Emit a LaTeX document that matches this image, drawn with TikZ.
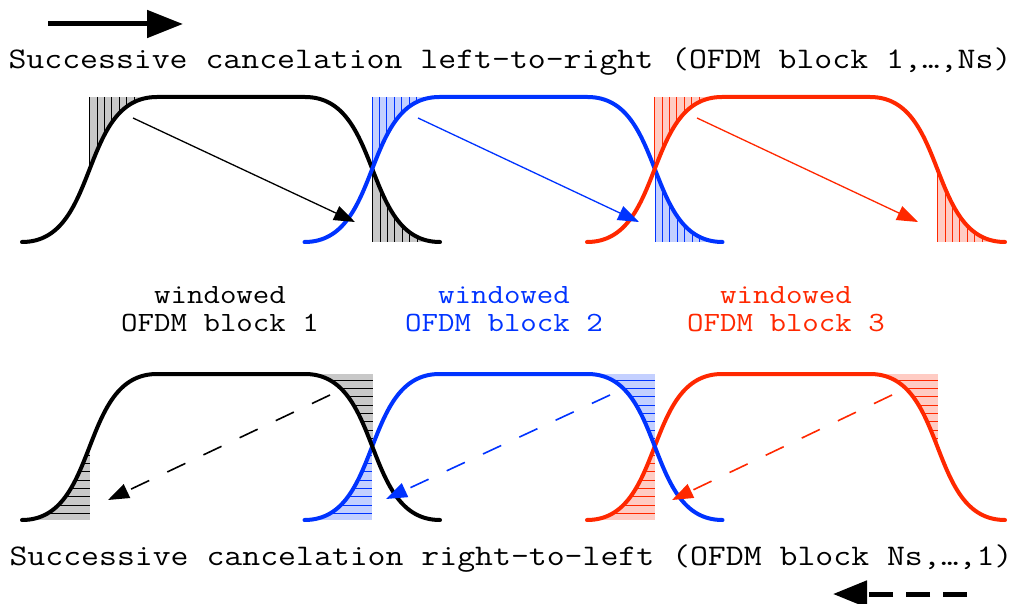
\documentclass[tikz,border=0pt]{standalone}
\usetikzlibrary{arrows.meta}
\definecolor{myblue}{RGB}{0,51,255}
\definecolor{myred}{RGB}{255,40,0}
\definecolor{lgray}{RGB}{200,200,200}
\definecolor{lblue}{RGB}{196,208,255}
\definecolor{lred}{RGB}{255,204,196}
\tikzset{
  pulse/.style={line width=4pt, line cap=round, line join=round},
  hatchline/.style={line width=0.7pt},
  solidarrow/.style={line width=1.3pt, -{Triangle[length=21pt,width=15pt]}},
  dasharrow/.style={line width=1.6pt, dash pattern=on 20pt off 20pt, -{Triangle[length=21pt,width=15pt]}},
  bigarrow/.style={line width=5pt, -{Triangle[length=36pt,width=27pt]}},
  bigdasharrow/.style={line width=5pt, dash pattern=on 24pt off 13pt, -{Triangle[length=34pt,width=26pt]}},
  titletext/.style={font=\ttfamily\fontsize{29.9}{30}\selectfont, xscale=1.163, anchor=base, inner sep=0pt},
  lbl/.style={font=\ttfamily\fontsize{27.8}{28}\selectfont, xscale=1.15, anchor=base, inner sep=0pt},
}
% rising curve from foot (22+o,B) to (157+o,T)
\newcommand\riseseg[3]{({22+#1},#3) .. controls ({100.3+#1},#3) and ({78.7+#1},#2) .. ({157+#1},#2)}
% falling curve from (305+o,T) to (440+o,B)
\newcommand\fallseg[3]{({305+#1},#2) .. controls ({383.3+#1},#2) and ({361.7+#1},#3) .. ({440+#1},#3)}
\begin{document}
\begin{tikzpicture}[x=1pt,y=-1pt]
\path[use as bounding box, fill=white] (0,0) rectangle (1014,604);

% ---------- top row hatches (vertical lines) ----------
\foreach \o/\c/\f in {0/black/lgray, 282.5/myblue/lblue, 565/myred/lred}{
  \begin{scope}
    \clip \riseseg{\o}{97}{242} -- ({22+\o},97) -- cycle;
    \fill[\f] ({89.5+\o},97) rectangle ({157+\o},242);
    \foreach \k in {0,...,9}{\draw[\c,hatchline] ({89.5+\o+7.4*\k},97) -- ++(0,145);}
  \end{scope}
  \begin{scope}
    \clip \fallseg{\o}{97}{242} -- ({305+\o},242) -- cycle;
    \fill[\f] ({372.5+\o},97) rectangle ({440+\o},242);
    \foreach \k in {0,...,9}{\draw[\c,hatchline] ({372.5+\o+7.4*\k},97) -- ++(0,145);}
  \end{scope}
}
% ---------- bottom row hatches (horizontal lines) ----------
\foreach \o/\c/\f in {0/black/lgray, 282.5/myblue/lblue, 565/myred/lred}{
  \begin{scope}
    \clip \riseseg{\o}{374}{520} -- ({157+\o},520) -- cycle;
    \fill[\f] ({22+\o},374) rectangle ({89.5+\o},520);
    \foreach \k in {0,...,16}{\draw[\c,hatchline] ({22+\o},{380+8.333*\k}) -- ++(67.5,0);}
  \end{scope}
  \begin{scope}
    \clip \fallseg{\o}{374}{520} -- ({440+\o},374) -- cycle;
    \fill[\f] ({305+\o},374) rectangle ({372.5+\o},520);
    \foreach \k in {0,...,16}{\draw[\c,hatchline] ({305+\o},{380+8.333*\k}) -- ++(67.5,0);}
  \end{scope}
}

% ---------- pulses ----------
\foreach \o/\c in {0/black, 282.5/myblue, 565/myred}{
  \draw[pulse,\c] \riseseg{\o}{97}{242} -- ({305+\o},97) .. controls ({383.3+\o},97) and ({361.7+\o},242) .. ({440+\o},242);
}
\foreach \o/\c in {565/myred, 282.5/myblue, 0/black}{
  \draw[pulse,\c] \riseseg{\o}{374}{520} -- ({305+\o},374) .. controls ({383.3+\o},374) and ({361.7+\o},520) .. ({440+\o},520);
}

% ---------- arrow end points ----------
\coordinate (ta1) at (133,118); \coordinate (tb1) at (355,222);
\coordinate (ta2) at (418,118); \coordinate (tb2) at (639,222);
\coordinate (ta3) at (697,118); \coordinate (tb3) at (918,222);
\coordinate (ba1) at (330,395); \coordinate (bb1) at (108,500);
\coordinate (ba2) at (610,395); \coordinate (bb2) at (386,499);
\coordinate (ba3) at (892,395); \coordinate (bb3) at (672,500);
\coordinate (la) at (48,24); \coordinate (lb) at (183,24);
\coordinate (ra) at (967,594); \coordinate (rb) at (833,594);

\draw[solidarrow,black] (ta1) -- (tb1);
\draw[solidarrow,myblue] (ta2) -- (tb2);
\draw[solidarrow,myred] (ta3) -- (tb3);
\draw[dasharrow,black] (ba1) -- (bb1);
\draw[dasharrow,myblue] (ba2) -- (bb2);
\draw[dasharrow,myred] (ba3) -- (bb3);
\draw[bigarrow] (la) -- (lb);
\draw[bigdasharrow] (ra) -- (rb);

% ---------- texts ----------
\node[titletext] (t1) at (510,68.5) {Successive cancelation left-to-right (OFDM block 1,…,Ns)};
\node[titletext] (t2) at (511,565) {Successive cancelation right-to-left (OFDM block Ns,…,1)};
\node[lbl] (w1) at (220,303.5) {windowed};
\node[lbl] (o1) at (220,331.5) {OFDM block 1};
\node[lbl,text=myblue] (w2) at (504,303.5) {windowed};
\node[lbl,text=myblue] (o2) at (504,331.5) {OFDM block 2};
\node[lbl,text=myred] (w3) at (786,303.5) {windowed};
\node[lbl,text=myred] (o3) at (786,331.5) {OFDM block 3};
\end{tikzpicture}
\end{document}
